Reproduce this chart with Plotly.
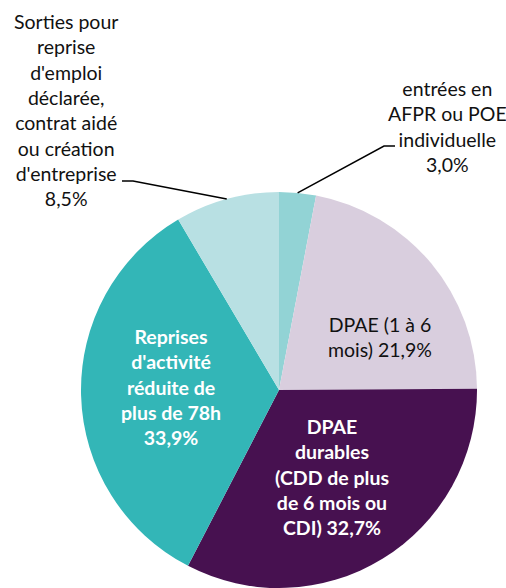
import math
import plotly.graph_objects as go

labels = [
    "entrées en AFPR ou POE individuelle",
    "DPAE (1 à 6 mois)",
    "DPAE durables (CDD de plus de 6 mois ou CDI)",
    "Reprises d'activité réduite de plus de 78h",
    "Sorties pour reprise d'emploi déclarée, contrat aidé ou création d'entreprise",
]
values = [3.0, 21.9, 32.7, 33.9, 8.5]
label_texts = [
    "entrées en<br>AFPR ou POE<br>individuelle<br>3,0%",
    "DPAE (1 à 6<br>mois) 21,9%",
    "<b>DPAE<br>durables<br>(CDD de plus<br>de 6 mois ou<br>CDI) 32,7%</b>",
    "<b>Reprises<br>d'activité<br>réduite de<br>plus de 78h<br>33,9%</b>",
    "Sorties pour<br>reprise<br>d'emploi<br>déclarée,<br>contrat aidé<br>ou création<br>d'entreprise<br>8,5%",
]
colors = ["#92D3D5", "#D9CEDE", "#471150", "#33B6B7", "#B8E0E3"]

W, H = 506, 588
# page-pixel geometry
CX, CY, R = 279, 390, 198

# label placement (page pixels) and text colours
label_pos = [(447, 127), (380, 337), (332, 477), (171, 387), (66, 110)]
label_colors = ["#111111", "#111111", "#FFFFFF", "#FFFFFF", "#111111"]
# elbows for leader lines (only outside labels)
elbows = {0: [(395, 146), (384, 146)], 4: [(122, 181), (133, 181)]}


def px(x, y):
    return x / W, 1 - y / H


x0, y1 = px(CX - R, CY - R)
x1, y0 = px(CX + R, CY + R)
fig = go.Figure(go.Pie(
    labels=labels, values=values, sort=False, direction="clockwise", rotation=0,
    marker=dict(colors=colors, line=dict(width=0)),
    textinfo="none", hoverinfo="label+percent", showlegend=False,
    domain=dict(x=[x0, x1], y=[max(0, y0), y1]),
))

for i, t in enumerate(label_texts):
    x, y = px(*label_pos[i])
    fig.add_annotation(x=x, y=y, xref="paper", yref="paper", text=t, showarrow=False,
                       xanchor="center", yanchor="middle", align="center",
                       font=dict(family="Lato", size=19.5, color=label_colors[i]))

total = sum(values)
cum = 0
mids = []
for v in values:
    mids.append((cum + v / 2) / total * 2 * math.pi)
    cum += v

for i, pts in elbows.items():
    a = mids[i]
    ax, ay = CX + R * math.sin(a), CY - R * math.cos(a)
    path_pts = pts + [(ax, ay)]
    d = "M " + " L ".join("{},{}".format(*px(*p)) for p in path_pts)
    fig.add_shape(type="path", path=d, xref="paper", yref="paper",
                  line=dict(color="#000000", width=1.5))

fig.update_layout(width=W, height=H, margin=dict(l=0, r=0, t=0, b=0),
                  paper_bgcolor="white", plot_bgcolor="white")
fig.write_html(
    "out.html",
    config={"displayModeBar": False},
    post_script="document.body.style.margin='0px'; document.body.style.overflow='hidden';",
)
